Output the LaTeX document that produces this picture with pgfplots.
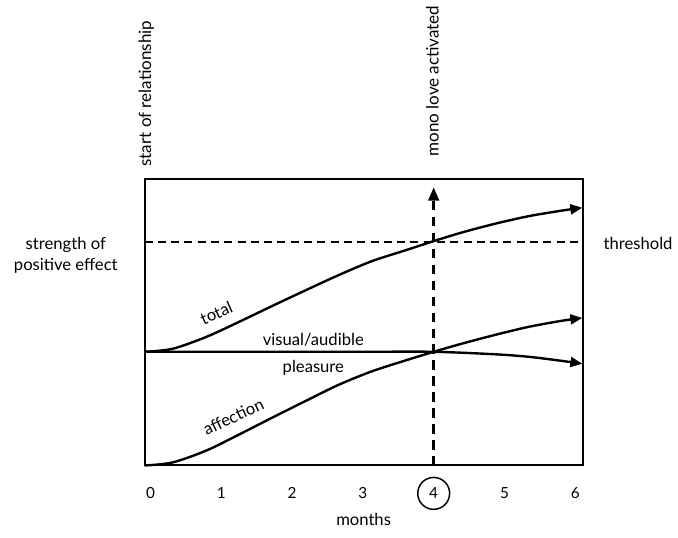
\documentclass[border=0pt]{standalone}
\usepackage{fontspec}
\setmainfont{Lato}
\usepackage{pgfplots}
\pgfplotsset{compat=1.18}
\usepackage{pgfplotstable}
\usetikzlibrary{arrows.meta}

% curve values (y in 0..287 box units)
\pgfplotstableread{
x      total  affection
-0.085 114    0
0.31   117    3
0.79   129    15
1.25   144    31
1.72   160    48
2.20   176    65
2.66   191    81
3.13   205    94.5
3.61   216    105.5
4.00   225    114
4.39   233.5  122
4.87   242.5  131
5.34   250    139
5.80   255.5  145
6.10   258.5  148
}\curves

\begin{document}
\fontsize{12.5}{15.5}\selectfont
\begin{tikzpicture}
\begin{axis}[
    scale only axis,
    width=330pt, height=215.25pt,
    xmin=-0.0845, xmax=6.1127,
    ymin=0, ymax=287,
    clip=false,
    axis line style={line width=1.5pt},
    ytick=\empty,
    xtick={0,...,6},
    major tick length=0pt,
    tick label style={font=\fontsize{11.5}{14}\selectfont},
    xticklabel style={anchor=base, yshift=-24.75pt},
    /pgf/number format/assume math mode=true,
]
  % threshold
  \draw[line width=1.1pt, dash pattern=on 6pt off 4pt]
     (axis cs:-0.0845,224) -- (axis cs:6.1127,224);
  % mono love activated
  \draw[line width=2pt, dash pattern=on 7pt off 5pt,
        -{Triangle[length=10pt,width=8pt]}]
     (axis cs:4,0) -- (axis cs:4,279);

  \addplot[line width=1.8pt, smooth, -{Triangle[length=9pt,width=7.5pt]}]
     table[x=x, y=total] {\curves};
  \addplot[line width=1.8pt, smooth, -{Triangle[length=9pt,width=7.5pt]}]
     table[x=x, y=affection] {\curves};
  \addplot[line width=1.8pt, smooth, -{Triangle[length=9pt,width=7.5pt]}]
     coordinates {(-0.085,114) (1,114) (2,114) (3,114) (4,114)
                  (4.87,111.5) (5.34,109) (5.80,105) (6.10,102)};

  % circled 4
  \draw[line width=1.1pt] (axis cs:4,-28) circle[radius=12pt];

  % curve labels
  \node[rotate=24] at (axis cs:0.93,153) {total};
  \node at (axis cs:2.30,126) {visual/audible};
  \node at (axis cs:2.30,98) {pleasure};
  \node[rotate=25] at (axis cs:1.17,49) {affection};

  \node[align=center] at (axis cs:-1.197,211) {strength of\\positive effect};
  \node[anchor=base] at (axis cs:6.887,217) {threshold};
  \node[rotate=90, anchor=base west, font=\fontsize{12.8}{15}\selectfont]
     at (axis cs:0.01,294) {start of relationship};
  \node[rotate=90, anchor=base west, font=\fontsize{12.8}{15}\selectfont]
     at (axis cs:4.07,304) {mono love activated};
  \node[anchor=base] at (axis cs:3.01,-60) {months};

  \path (rel axis cs:-0.3295,-0.2509) rectangle (rel axis cs:1.2114,1.6167);
\end{axis}
\end{tikzpicture}
\end{document}
